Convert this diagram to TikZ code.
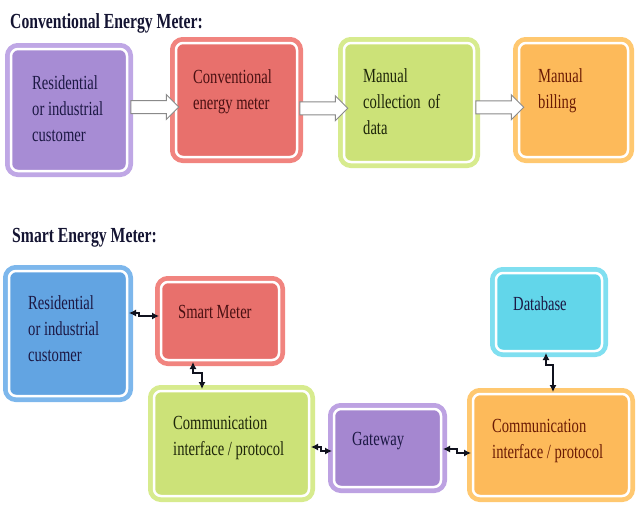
\documentclass[tikz,border=0pt]{standalone}
\usepackage{fontspec}
\setmainfont{Liberation Serif}[FakeStretch=0.73]
\usetikzlibrary{arrows.meta,shapes.arrows,calc}

\definecolor{lilac}{HTML}{A78CD4}
\definecolor{lilacrim}{HTML}{BFA7E5}
\definecolor{coral}{HTML}{E8706C}
\definecolor{coralrim}{HTML}{F1847F}
\definecolor{lime}{HTML}{CCE278}
\definecolor{limerim}{HTML}{D7EB8E}
\definecolor{amber}{HTML}{FDBA5A}
\definecolor{amberrim}{HTML}{FFC870}
\definecolor{sky}{HTML}{62A4E2}
\definecolor{skyrim}{HTML}{7DB7EC}
\definecolor{aqua}{HTML}{62D6EA}
\definecolor{aquarim}{HTML}{80DFF0}
\definecolor{violet}{HTML}{A587D0}
\definecolor{violetrim}{HTML}{BDA2E2}
\definecolor{titleink}{HTML}{141432}
\definecolor{navyink}{HTML}{1C1844}
\definecolor{redink}{HTML}{4A1012}
\definecolor{greenink}{HTML}{1E260A}
\definecolor{brownink}{HTML}{6A1A04}
\definecolor{arrowgray}{HTML}{8A8A8A}
\definecolor{linkink}{HTML}{10121E}

\tikzset{
  box/.style 2 args={rounded corners=7pt, fill=#1, draw=white, line width=2.5pt,
    inner sep=0pt, outer sep=2pt, preaction={draw=#2, line width=12pt}},
  txt/.style={anchor=base west, inner sep=0pt, align=left,
    font=\fontsize{20}{26}\selectfont},
  head/.style={anchor=base west, inner sep=0pt, text=titleink,
    font=\bfseries\fontsize{21.5}{26}\selectfont},
  flow/.style={single arrow, draw=arrowgray, fill=white, line width=1pt, inner sep=6pt,
    single arrow head extend=6pt, minimum height=48pt},
  link/.style={{Latex[length=7pt,width=7pt]}-{Latex[length=7pt,width=7pt]},
    line width=1.2pt, draw=linkink},
}

\begin{document}
\begin{tikzpicture}[x=1pt, y=-1pt]
\useasboundingbox (0,0) rectangle (636,504);

% conventional meter
\node[head] (convtitle) at (10,28) {Conventional Energy Meter:};

\node[box={lilac}{lilacrim}, minimum width=116pt, minimum height=122pt] (cust1) at (69,110) {};
\node[box={coral}{coralrim}, minimum width=121pt, minimum height=114pt] (cmeter) at (236.5,100) {};
\node[box={lime}{limerim}, minimum width=130pt, minimum height=119pt] (collect) at (409,102.5) {};
\node[box={amber}{amberrim}, minimum width=109pt, minimum height=114pt] (billing) at (573.5,100) {};

% base anchor sits on the last line
\node[txt, text=navyink] (cust1txt) at (32,141) {Residential\\or industrial\\customer};
\node[txt, text=redink] (cmetertxt) at (193,109) {Conventional\\energy meter};
\node[txt, text=greenink] (collecttxt) at (363,134) {Manual\\collection~ of\\data};
\node[txt, text=brownink] (billingtxt) at (538,108) {Manual\\billing};

\node[flow] (arr1) at ($(cust1.east)!0.5!(cmeter.west)$) [yshift=-2pt] {};
\node[flow] (arr2) at ($(cmeter.east)!0.5!(collect.west)$) [yshift=-7pt] {};
\node[flow] (arr3) at ($(collect.east)!0.5!(billing.west)$) [yshift=-6pt] {};

% smart meter
\node[head] (smarttitle) at (12,242) {Smart Energy Meter:};

\node[box={sky}{skyrim}, minimum width=118pt, minimum height=125pt] (cust2) at (68,333.5) {};
\node[box={coral}{coralrim}, minimum width=118pt, minimum height=78pt] (smart) at (220,321) {};
\node[box={lime}{limerim}, minimum width=155pt, minimum height=105pt] (comm1) at (231.5,443.5) {};
\node[box={violet}{violetrim}, minimum width=107pt, minimum height=78pt] (gateway) at (387.5,448) {};
\node[box={aqua}{aquarim}, minimum width=106pt, minimum height=78pt] (database) at (549,312) {};
\node[box={amber}{amberrim}, minimum width=156pt, minimum height=102pt] (comm2) at (551,445) {};

\node[txt, text=navyink] (cust2txt) at (28,361) {Residential\\or industrial\\customer};
\node[txt, text=redink] (smarttxt) at (178,318) {Smart Meter};
\node[txt, text=greenink] (comm1txt) at (173,455) {Communication\\interface / protocol};
\node[txt, text=navyink] (gatewaytxt) at (352,445) {Gateway};
\node[txt, text=navyink] (databasetxt) at (513,310) {Database};
\node[txt, text=brownink] (comm2txt) at (492,458) {Communication\\interface / protocol};

\draw[link] ([yshift=20.5pt]cust2.east) -- ++(10,0) |- ([yshift=5pt]smart.west);
\draw[link] ([xshift=-27pt]smart.south) -- ++(0,11) -| ([xshift=-29.5pt]comm1.north);
\draw[link] ([yshift=-3.5pt]comm1.east) -- ++(10,0) |- ([yshift=-3pt]gateway.west);
\draw[link] ([yshift=-1pt]gateway.east) -- ++(14,0) |- ([yshift=-8pt]comm2.west);
\draw[link] ([xshift=-3pt]database.south) -- ++(0,12) -| ([xshift=2pt]comm2.north);

\end{tikzpicture}
\end{document}
